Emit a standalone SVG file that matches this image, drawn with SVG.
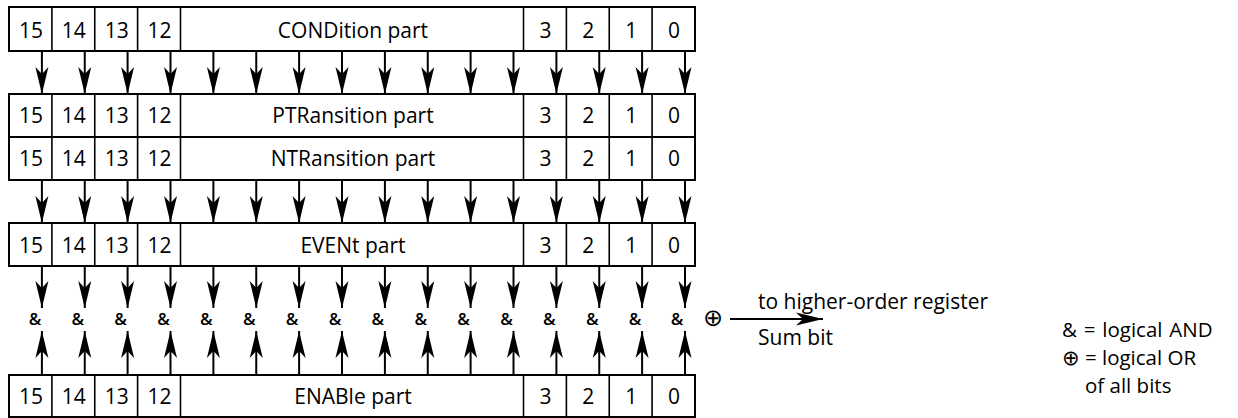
<svg xmlns="http://www.w3.org/2000/svg" width="1238" height="418" viewBox="0 0 1238 418">
<style>
  .box { fill: #fff; stroke: #000; stroke-width: 2; }
  .div { stroke: #000; stroke-width: 1.6; }
  .lbl { font-family: "Open Sans", "Liberation Sans", sans-serif; font-size: 21px; fill: #000; text-anchor: middle; }
  .txt { font-family: "Open Sans", "Liberation Sans", sans-serif; font-size: 21px; fill: #000; }
  .leg { font-family: "Open Sans", "Liberation Sans", sans-serif; font-size: 20.5px; fill: #000; }
  .amp { font-family: "Open Sans", "Liberation Sans", sans-serif; font-size: 17px; font-weight: 600; fill: #000; text-anchor: middle; }
  .sym { font-family: "DejaVu Sans", sans-serif; font-size: 24px; fill: #000; }
  .lsym { font-family: "DejaVu Sans", sans-serif; font-size: 21px; }
  .arr { stroke: #000; stroke-width: 2; fill: none; marker-end: url(#ah); }
</style>
<defs>
  <marker id="ah" viewBox="-28 -7 29 14" refX="0" refY="0" markerWidth="29" markerHeight="14" markerUnits="userSpaceOnUse" orient="auto">
    <path d="M0,0 L-27,-6.5 L-20,0 L-27,6.5 Z" fill="#000"/>
  </marker>
  <g id="cells">
    <path class="div" d="M51.9,0 v44 M94.75,0 v44 M137.6,0 v44 M180.5,0 v44 M523.5,0 v44 M566.4,0 v44 M609.25,0 v44 M652.1,0 v44"/>
  </g>
</defs>

<g id="condition">
  <rect class="box" x="9" y="7" width="686" height="44"/>
  <use href="#cells" transform="translate(0,7)"/>
  <text class="lbl" y="38"><tspan x="31">15</tspan><tspan x="73.8">14</tspan><tspan x="116.7">13</tspan><tspan x="159.6">12</tspan><tspan x="353">CONDition part</tspan><tspan x="545.5">3</tspan><tspan x="588.3">2</tspan><tspan x="631.2">1</tspan><tspan x="674">0</tspan></text>
</g>

<g id="ptransition">
  <rect class="box" x="9" y="94" width="686" height="43"/>
  <use href="#cells" transform="translate(0,94)"/>
  <text class="lbl" y="123"><tspan x="31">15</tspan><tspan x="73.8">14</tspan><tspan x="116.7">13</tspan><tspan x="159.6">12</tspan><tspan x="353">PTRansition part</tspan><tspan x="545.5">3</tspan><tspan x="588.3">2</tspan><tspan x="631.2">1</tspan><tspan x="674">0</tspan></text>
</g>

<g id="ntransition">
  <rect class="box" x="9" y="137" width="686" height="43"/>
  <use href="#cells" transform="translate(0,137)"/>
  <text class="lbl" y="166"><tspan x="31">15</tspan><tspan x="73.8">14</tspan><tspan x="116.7">13</tspan><tspan x="159.6">12</tspan><tspan x="353">NTRansition part</tspan><tspan x="545.5">3</tspan><tspan x="588.3">2</tspan><tspan x="631.2">1</tspan><tspan x="674">0</tspan></text>
</g>

<g id="event">
  <rect class="box" x="9" y="223" width="686" height="43"/>
  <use href="#cells" transform="translate(0,223)"/>
  <text class="lbl" y="252.5"><tspan x="31">15</tspan><tspan x="73.8">14</tspan><tspan x="116.7">13</tspan><tspan x="159.6">12</tspan><tspan x="353">EVENt part</tspan><tspan x="545.5">3</tspan><tspan x="588.3">2</tspan><tspan x="631.2">1</tspan><tspan x="674">0</tspan></text>
</g>

<g id="enable">
  <rect class="box" x="9" y="375" width="686" height="42"/>
  <use href="#cells" transform="translate(0,375)"/>
  <text class="lbl" y="403.5"><tspan x="31">15</tspan><tspan x="73.8">14</tspan><tspan x="116.7">13</tspan><tspan x="159.6">12</tspan><tspan x="353">ENABle part</tspan><tspan x="545.5">3</tspan><tspan x="588.3">2</tspan><tspan x="631.2">1</tspan><tspan x="674">0</tspan></text>
</g>

<g id="and-gates">
  <text class="amp" y="325"><tspan x="35">&amp;</tspan><tspan x="77.8">&amp;</tspan><tspan x="120.6">&amp;</tspan><tspan x="163.5">&amp;</tspan><tspan x="206.4">&amp;</tspan><tspan x="249.3">&amp;</tspan><tspan x="292.1">&amp;</tspan><tspan x="335">&amp;</tspan><tspan x="377.9">&amp;</tspan><tspan x="420.8">&amp;</tspan><tspan x="463.6">&amp;</tspan><tspan x="506.5">&amp;</tspan><tspan x="549.4">&amp;</tspan><tspan x="592.3">&amp;</tspan><tspan x="635.1">&amp;</tspan><tspan x="677">&amp;</tspan></text>
</g>

<g id="or-gate">
  <text class="sym" x="713" y="326" text-anchor="middle">⊕</text>
</g>

<g id="connectors">
  <path class="arr" d="M41.9,51 V94"/><path class="arr" d="M84.75,51 V94"/><path class="arr" d="M127.6,51 V94"/><path class="arr" d="M170.5,51 V94"/>
  <path class="arr" d="M213.4,51 V94"/><path class="arr" d="M256.25,51 V94"/><path class="arr" d="M299.1,51 V94"/><path class="arr" d="M342,51 V94"/>
  <path class="arr" d="M384.9,51 V94"/><path class="arr" d="M427.75,51 V94"/><path class="arr" d="M470.6,51 V94"/><path class="arr" d="M513.5,51 V94"/>
  <path class="arr" d="M556.4,51 V94"/><path class="arr" d="M599.25,51 V94"/><path class="arr" d="M642.1,51 V94"/><path class="arr" d="M685,51 V94"/>

  <path class="arr" d="M41.9,180 V223"/><path class="arr" d="M84.75,180 V223"/><path class="arr" d="M127.6,180 V223"/><path class="arr" d="M170.5,180 V223"/>
  <path class="arr" d="M213.4,180 V223"/><path class="arr" d="M256.25,180 V223"/><path class="arr" d="M299.1,180 V223"/><path class="arr" d="M342,180 V223"/>
  <path class="arr" d="M384.9,180 V223"/><path class="arr" d="M427.75,180 V223"/><path class="arr" d="M470.6,180 V223"/><path class="arr" d="M513.5,180 V223"/>
  <path class="arr" d="M556.4,180 V223"/><path class="arr" d="M599.25,180 V223"/><path class="arr" d="M642.1,180 V223"/><path class="arr" d="M685,180 V223"/>

  <path class="arr" d="M41.9,266 V308"/><path class="arr" d="M84.75,266 V308"/><path class="arr" d="M127.6,266 V308"/><path class="arr" d="M170.5,266 V308"/>
  <path class="arr" d="M213.4,266 V308"/><path class="arr" d="M256.25,266 V308"/><path class="arr" d="M299.1,266 V308"/><path class="arr" d="M342,266 V308"/>
  <path class="arr" d="M384.9,266 V308"/><path class="arr" d="M427.75,266 V308"/><path class="arr" d="M470.6,266 V308"/><path class="arr" d="M513.5,266 V308"/>
  <path class="arr" d="M556.4,266 V308"/><path class="arr" d="M599.25,266 V308"/><path class="arr" d="M642.1,266 V308"/><path class="arr" d="M685,266 V308"/>

  <path class="arr" d="M41.9,375 V331"/><path class="arr" d="M84.75,375 V331"/><path class="arr" d="M127.6,375 V331"/><path class="arr" d="M170.5,375 V331"/>
  <path class="arr" d="M213.4,375 V331"/><path class="arr" d="M256.25,375 V331"/><path class="arr" d="M299.1,375 V331"/><path class="arr" d="M342,375 V331"/>
  <path class="arr" d="M384.9,375 V331"/><path class="arr" d="M427.75,375 V331"/><path class="arr" d="M470.6,375 V331"/><path class="arr" d="M513.5,375 V331"/>
  <path class="arr" d="M556.4,375 V331"/><path class="arr" d="M599.25,375 V331"/><path class="arr" d="M642.1,375 V331"/><path class="arr" d="M685,375 V331"/>

  <path class="arr" d="M730,319 H823"/>
</g>

<g id="sum-labels">
  <text class="txt" x="758" y="309">to higher-order register</text>
  <text class="txt" x="758" y="345">Sum bit</text>
</g>

<g id="legend">
  <text class="leg" x="1062" y="337" word-spacing="1.5">&amp; = logical AND</text>
  <text class="leg" x="1062" y="365"><tspan class="lsym">⊕</tspan> = logical OR</text>
  <text class="leg" x="1085" y="393">of all bits</text>
</g>
</svg>
